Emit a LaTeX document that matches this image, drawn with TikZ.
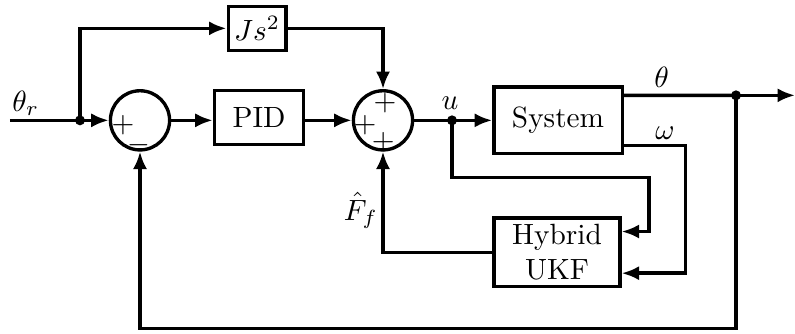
\documentclass[tikz,border=0pt]{standalone}
\usepackage{amsmath,amssymb}
\usepackage{tikz}
\usetikzlibrary{arrows.meta,positioning,calc}

\begin{document}
\begin{tikzpicture}[line width=1.15pt,
  blk/.style={draw,rectangle,inner sep=2pt},
  sum/.style={draw,circle,minimum size=7.1mm,inner sep=0pt},
  sgn/.style={inner sep=0pt,font=\normalsize},
  arr/.style={-{Latex[length=2.1mm,width=1.7mm]}}]
\useasboundingbox (0,0) rectangle (9.54,4.0);
% blocks
\node[sum] (s1) at (1.68,2.556) {};
\node[blk,minimum width=10.7mm,minimum height=6.5mm] (pid) at (3.108,2.59) {PID};
\node[blk,minimum width=6.7mm,minimum height=5.3mm] (js) at (3.084,3.66) {$Js^2$};
\node[sum] (s2) at (4.596,2.556) {};
\node[blk,minimum width=15.4mm,minimum height=8.0mm] (sys) at (6.696,2.556) {System};
\node[blk,minimum width=15.1mm,minimum height=8.2mm,align=center] (ukf) at (6.684,0.972) {Hybrid\\UKF};
% signs
\node[sgn] (p1) at (1.476,2.496) {$+$};
\node[sgn] (m1) at (1.668,2.26) {$-$};
\node[sgn] (p2) at (4.62,2.76) {$+$};
\node[sgn] (p3) at (4.38,2.496) {$+$};
\node[sgn] (p4) at (4.60,2.30) {$+$};
% junctions
\coordinate (in) at (0.12,2.556);
\coordinate (d1) at (0.96,2.556);
\coordinate (d3) at (5.424,2.556);
\coordinate (d2) at (8.832,2.856);
\coordinate (out) at (9.54,2.856);
\coordinate (fb) at (1.68,0.06);
\fill (d1) circle (1.7pt);
\fill (d3) circle (1.7pt);
\fill (d2) circle (1.7pt);
% labels
\node (lr) at (0.31,2.76) {$\theta_r$};
\node (lu) at (5.40,2.76) {$u$};
\node (lt) at (7.94,3.07) {$\theta$};
\node (lw) at (7.98,2.40) {$\omega$};
\node (lf) at (4.33,1.476) {$\hat{F}_f$};
% connections
\draw (in) -- (d1);
\draw[arr] (d1) -- (s1);
\draw[arr] (d1) |- (js);
\draw[arr] (js) -| (s2);
\draw[arr] (s1) -- (pid.west |- s1);
\draw[arr] (pid.east |- s2) -- (s2);
\draw (s2) -- (d3);
\draw[arr] (d3) -- (sys);
\draw ([yshift=3mm]sys.east) -- (d2);
\draw[arr] (d2) -- (out);
\draw[arr] ([yshift=-3mm]sys.east) -- ++(0.738,0) |- ([yshift=-2.5mm]ukf.east);
\draw[arr] (d3) |- ++(2.364,-0.684) |- ([yshift=2.5mm]ukf.east);
\draw[arr] (ukf.west) -| (s2);
\draw[arr] (d2) |- (fb) -- (s1);
\end{tikzpicture}
\end{document}
